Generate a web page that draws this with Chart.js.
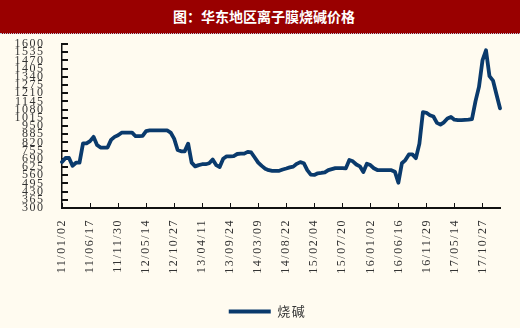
<!DOCTYPE html>
<html><head><meta charset="utf-8">
<script src="https://cdn.jsdelivr.net/npm/chart.js@4.4.1/dist/chart.umd.min.js"></script>
<style>
html,body{margin:0;padding:0;background:#FFFBF0;width:520px;height:328px;overflow:hidden}
#title{position:absolute;left:0;top:0;width:520px;height:34px;background:#990000;color:#fff;font:bold 14px "Noto Sans CJK SC",sans-serif;line-height:32px;text-align:center;border-bottom:1px dotted #b8c4dc;box-sizing:border-box;padding-left:8px;z-index:2}
#wrap{position:absolute;left:0;top:0;width:520px;height:328px}
</style></head><body>
<div id="wrap"><canvas id="c" width="520" height="328"></canvas></div>
<div id="title">图：华东地区离子膜烧碱价格</div>
<script>
const seriesName = '烧碱';
const tickLabels = ['11/01/02','11/06/17','11/11/30','12/05/14','12/10/27','13/04/11','13/09/24','14/03/09','14/08/22','15/02/04','15/07/20','16/01/02','16/06/16','16/11/29','17/05/14','17/10/27'];
const pointsPerLabel = 8;
const prices = [
 665,697,697,635,659,659,812,812,830,864,
 800,779,779,779,840,864,877,897,897,897,
 897,869,869,872,910,915,915,915,915,915,
 915,898,850,760,749,749,810,660,630,640,
 647,647,655,685,640,625,690,710,710,712,
 728,731,731,745,740,700,660,634,612,600,
 595,595,595,605,613,622,628,650,664,655,
 600,565,562,575,578,582,600,608,616,616,
 616,614,680,670,645,630,585,651,640,615,
 601,601,601,601,600,588,500,655,680,725,
 725,695,810,1060,1055,1035,1025,975,961,979,
 1010,1022,1000,996,996,998,1000,1005,1145,1260,
 1470,1550,1345,1310,1200,1090
];
const yMin = 300, yMax = 1600, yStep = 65;

const categories = prices.map((_, i) => i % pointsPerLabel === 0 ? (tickLabels[i / pointsPerLabel] || '') : '');

const spacing = {
  id: 'spacing',
  afterLayout(c) { if (c.legend) { c.legend.left += 16; c.legend.right += 16; } },
  beforeDraw(c) { c.ctx.letterSpacing = '1.5px'; },
  afterDraw(c) { c.ctx.letterSpacing = '0px'; }
};

new Chart(document.getElementById('c'), {
  type: 'line',
  data: {
    labels: categories,
    datasets: [{
      label: seriesName,
      data: prices,
      borderColor: '#0a3a6c',
      backgroundColor: '#0a3a6c',
      borderWidth: 3.8,
      pointRadius: 0,
      tension: 0,
      borderJoinStyle: 'round',
      borderCapStyle: 'round'
    }]
  },
  options: {
    responsive: false,
    animation: false,
    layout: { padding: { left: 0, right: 20, top: 44, bottom: 0 } },
    plugins: {
      legend: {
        position: 'bottom',
        labels: {
          usePointStyle: true,
          pointStyle: 'line',
          pointStyleWidth: 42,
          padding: 5,
          color: '#333',
          font: { family: '"Noto Sans CJK SC"', size: 13 }
        }
      },
      tooltip: { enabled: false }
    },
    scales: {
      x: {
        type: 'category',
        offset: false,
        afterFit(s) { s.height = 92; },
        border: { display: true, color: '#111', width: 2 },
        grid: { drawOnChartArea: false, drawTicks: true, tickLength: -5, color: '#111', lineWidth: 1 },
        ticks: {
          autoSkip: false,
          maxRotation: 90,
          minRotation: 90,
          padding: 16,
          color: '#333',
          font: { family: '"Liberation Serif"', size: 12 },
          callback: function (v) { const l = this.getLabelForValue(v); return l === '' ? null : l; }
        }
      },
      y: {
        min: yMin,
        max: yMax,
        afterFit(s) { s.width = 62; },
        border: { display: true, color: '#111', width: 1.5 },
        grid: { drawOnChartArea: false, drawTicks: true, tickLength: -6, color: '#111', lineWidth: 2 },
        ticks: {
          autoSkip: false,
          stepSize: yStep,
          padding: 23.5,
          color: '#333',
          font: { family: '"Liberation Serif"', size: 12 },
          callback: (v) => String(v)
        }
      }
    }
  },
  plugins: [spacing]
});
</script>
</body></html>
